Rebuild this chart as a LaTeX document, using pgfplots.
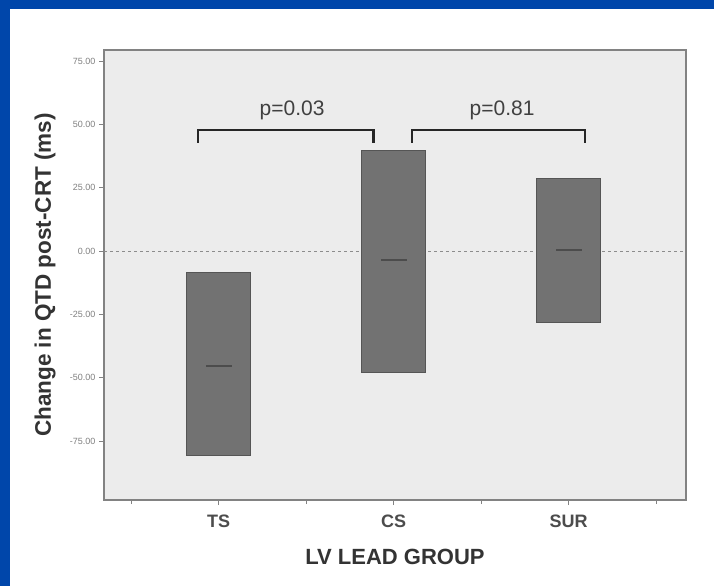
\documentclass[border=0pt]{standalone}
\usepackage{fontspec}
\setmainfont{Liberation Sans}
\usepackage{pgfplots}
\pgfplotsset{compat=1.18}
\usepgfplotslibrary{statistics}
\definecolor{slideblue}{RGB}{0,70,170}
\definecolor{plotbg}{RGB}{236,236,236}
\definecolor{boxfill}{RGB}{114,114,114}
\definecolor{boxedge}{RGB}{85,85,85}
\definecolor{framegray}{RGB}{130,130,130}
\begin{document}
\begin{tikzpicture}[x=1pt,y=1pt]
\fill[white] (0,0) rectangle (714,586);
\fill[slideblue] (0,0) rectangle (10,586);
\fill[slideblue] (0,577) rectangle (714,586);
\begin{axis}[
  at={(104pt,86pt)}, anchor=south west,
  scale only axis, width=582pt, height=450pt,
  xmin=-0.655, xmax=2.671, ymin=-98.3, ymax=79.4,
  clip=false,
  axis background/.style={fill=plotbg},
  axis line style={draw=framegray, line width=1.5pt},
  tick align=outside, tick pos=left,
  major tick style={draw=framegray, line width=0.9pt},
  minor tick style={draw=framegray, line width=0.9pt},
  minor tick length=4pt, major tick length=5pt,
  xtick={0,1,2}, xticklabels={TS,CS,SUR},
  minor xtick={-0.5,0.5,1.5,2.5},
  ytick={-75,-50,-25,0,25,50,75},
  /pgf/number format/assume math mode=true,
  yticklabel={\pgfmathprintnumber[fixed,fixed zerofill,precision=2]{\tick}},
  yticklabel style={font=\fontsize{9}{10}\selectfont, text=gray},
  xticklabel style={font=\bfseries\fontsize{18}{20}\selectfont, text=black!70, yshift=-6pt},
  xlabel={\textbf{LV LEAD GROUP}},
  xlabel style={font=\fontsize{22}{24}\selectfont, text=black!80, at={(axis description cs:0.5,-0.127)}, anchor=center},
  ylabel={\textbf{Change in QTD post-CRT (ms)}},
  ylabel style={font=\fontsize{22.5}{24}\selectfont, text=black!80, at={(axis description cs:-0.101,0.5)}, anchor=center},
  boxplot/draw direction=y,
  boxplot/box extend=0.37,
]
% dashed zero line
\addplot[draw=gray!90, dashed, line width=1.1pt] coordinates {(-0.655,0) (2.671,0)};
% boxes (range as box, no whiskers)
\addplot[fill=boxfill, draw=boxedge, line width=1pt,
  boxplot prepared={draw position=0, lower whisker=-80.6, lower quartile=-80.6, median=-80.6, upper quartile=-8.3, upper whisker=-8.3}]
  coordinates {};
\addplot[fill=boxfill, draw=boxedge, line width=1pt,
  boxplot prepared={draw position=1, lower whisker=-47.8, lower quartile=-47.8, median=-47.8, upper quartile=39.9, upper whisker=39.9}]
  coordinates {};
\addplot[fill=boxfill, draw=boxedge, line width=1pt,
  boxplot prepared={draw position=2, lower whisker=-28.4, lower quartile=-28.4, median=-28.4, upper quartile=28.8, upper whisker=28.8}]
  coordinates {};
% medians
\addplot[only marks, mark=-, mark size=13pt, mark options={draw=black!70, line width=2pt}]
  coordinates {(0,-45.4) (1,-3.6) (2,0.4)};
% brackets
\addplot[black!85, line width=2.2pt] coordinates {(-0.118,42.7) (-0.118,47.8) (0.885,47.8) (0.885,42.7)};
\addplot[black!85, line width=2.2pt] coordinates {(1.105,42.7) (1.105,47.8) (2.094,47.8) (2.094,42.7)};
\node[font=\fontsize{21}{23}\selectfont, text=black!75] at (axis cs:0.42,55.5) {p=0.03};
\node[font=\fontsize{21}{23}\selectfont, text=black!75] at (axis cs:1.62,55.5) {p=0.81};
\end{axis}
\end{tikzpicture}
\end{document}
